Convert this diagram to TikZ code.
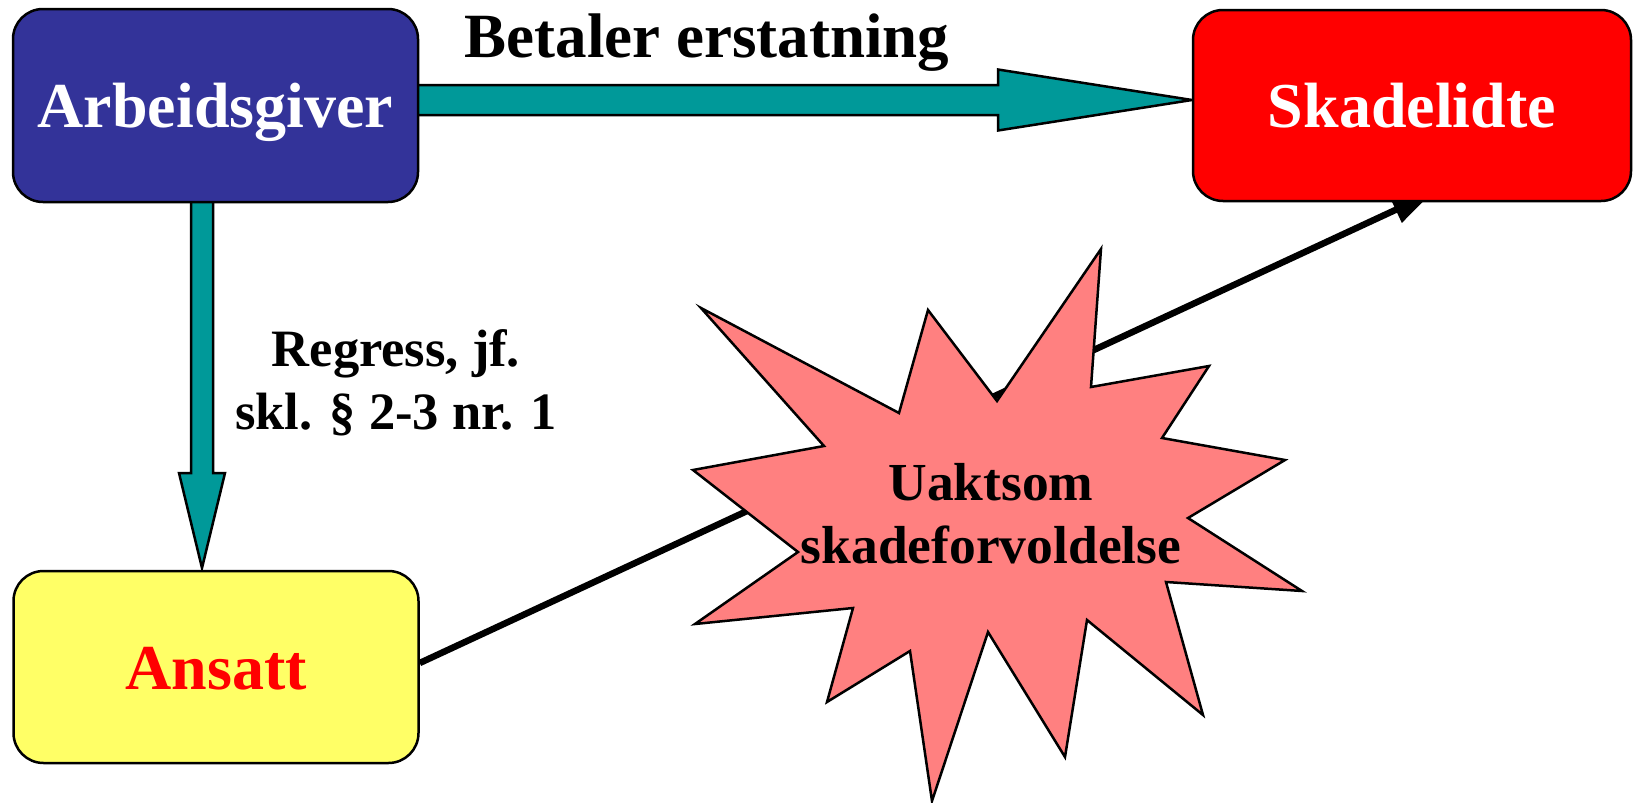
\documentclass[tikz,border=0pt]{standalone}
\usepackage{fontspec}
\setmainfont{Liberation Serif}
\usetikzlibrary{arrows.meta,calc,backgrounds}
\definecolor{arbcol}{RGB}{51,51,153}
\definecolor{tealc}{RGB}{0,153,153}
\definecolor{anscol}{RGB}{255,255,102}
\definecolor{starcol}{RGB}{255,128,128}
\begin{document}
\begin{tikzpicture}[x=1pt,y=-1pt,
  box/.style={draw=black,line width=2.5pt,rounded corners=30pt,inner sep=0pt,
    text height=44pt,text depth=0pt,font=\fontsize{64}{70}\selectfont\bfseries},
  lbl/.style={inner sep=0pt,anchor=base,align=center},
  tealarr/.style={draw=black,fill=tealc,line width=2.5pt,line join=miter},
  burst/.style={draw=black,fill=starcol,line width=2.5pt,line join=miter},
  conn/.style={draw=black,line width=6.5pt,-{Triangle[length=40pt,width=27pt]}}]
\useasboundingbox (0,0) rectangle (1634,803);
% boxes
\node[box,fill=arbcol,text=white,minimum width=405pt,minimum height=193pt] (arb) at (215.5,105.5) {Arbeidsgiver};
\node[box,fill=red,text=white,minimum width=438pt,minimum height=191pt] (skade) at (1412,105.5) {Skadelidte};
\node[box,fill=anscol,text=red,minimum width=405pt,minimum height=192pt] (ansatt) at (216,667) {Ansatt};
% starburst
\draw[burst] (701,308) -- (899,413) -- (928,310) -- (997,401) -- (1101,249) -- (1091,387)
  -- (1209,366) -- (1162,438) -- (1285,460) -- (1188,518) -- (1302,591) -- (1166,582)
  -- (1203,715) -- (1087,620) -- (1065,757) -- (988,632) -- (932,801) -- (910,651)
  -- (827,702) -- (853,608) -- (695,624) -- (798,552) -- (693,470) -- (824,446) -- cycle;
\node[lbl,font=\fontsize{53.5}{63}\selectfont\bfseries] (uakt) at (991,563) {Uaktsom\\skadeforvoldelse};
% labels
\node[lbl,font=\fontsize{63}{70}\selectfont\bfseries] (betal) at (707,57) {Betaler erstatning};
\node[lbl,font=\fontsize{52.5}{63}\selectfont\bfseries] (regress) at (396,429) {Regress, jf.\\skl. § 2-3 nr. 1};
% connectors
\coordinate (h0) at (410,100);
\coordinate (h1) at (1192,100);
\coordinate (v0) at (202,195);
\coordinate (v1) at (202,568);
\coordinate (hit) at ($(skade.south)+(20,-9.3)$);
\begin{pgfonlayer}{background}
\draw[conn] ([yshift=4pt]ansatt.east) -- (hit);
\draw[tealarr] ($(h0)+(0,-15)$) -- ($(h1)+(-194,-15)$) -- ($(h1)+(-194,-30.5)$) -- (h1)
  -- ($(h1)+(-194,30.5)$) -- ($(h1)+(-194,15)$) -- ($(h0)+(0,15)$) -- cycle;
\draw[tealarr] ($(v0)+(-11,0)$) -- ($(v1)+(-11,-95)$) -- ($(v1)+(-23,-95)$) -- (v1)
  -- ($(v1)+(23,-95)$) -- ($(v1)+(11,-95)$) -- ($(v0)+(11,0)$) -- cycle;
\end{pgfonlayer}
\end{tikzpicture}
\end{document}
